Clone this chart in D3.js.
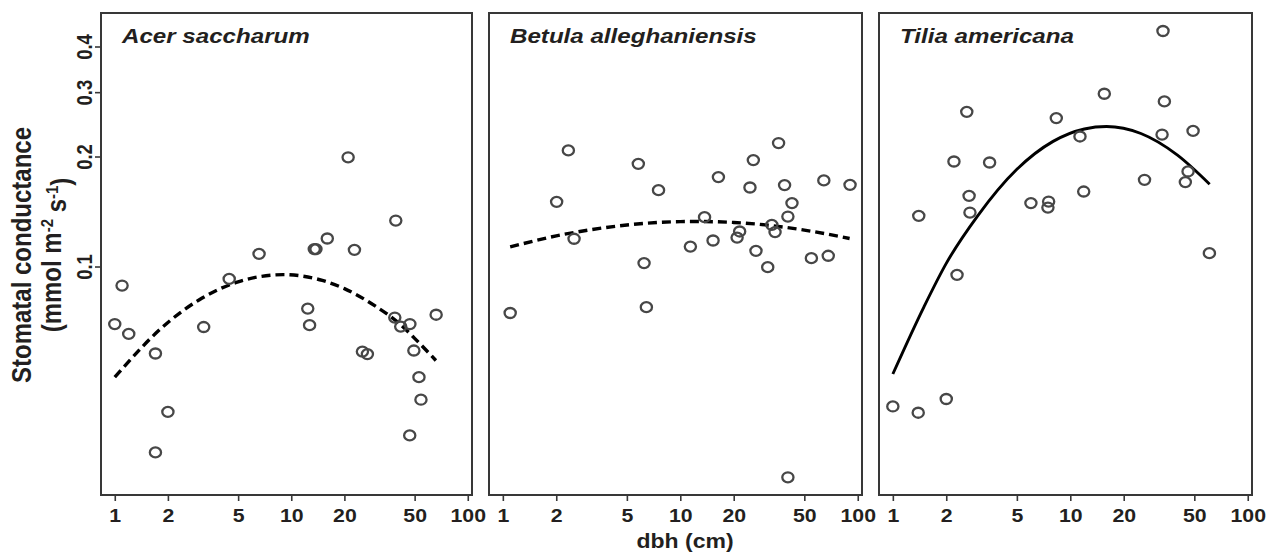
<!DOCTYPE html>
<html><head><meta charset="utf-8">
<script src="https://cdn.jsdelivr.net/npm/d3@7"></script>
<style>
body{margin:0;background:#fff}
text{font-family:"Liberation Sans",Arial,Helvetica,sans-serif;font-weight:bold;fill:#231f20}
</style>
</head><body>
<svg id="chart" width="1268" height="554"></svg>
<script>
// ---------------- data ----------------
const speciesNames = ["Acer saccharum", "Betula alleghaniensis", "Tilia americana"];
const xTicks = [1, 2, 5, 10, 20, 50, 100];
const yTicks = [0.1, 0.2, 0.3, 0.4];

const acerDbh = [21.0, 39.1, 16.0, 13.5, 13.8, 22.8, 6.57, 4.45, 1.10, 1.0, 1.20, 3.19, 12.4, 12.7, 38.6, 41.7, 47.0, 66.2, 1.70, 25.3, 27.0, 49.5, 52.9, 54.3, 46.9, 2.0, 1.70];
const acerGs  = [0.199, 0.1336, 0.1193, 0.1116, 0.1116, 0.1111, 0.1083, 0.0925, 0.0887, 0.0696, 0.0654, 0.0683, 0.0767, 0.0691, 0.0725, 0.0685, 0.0696, 0.0738, 0.0578, 0.0585, 0.0576, 0.0589, 0.0498, 0.0432, 0.0345, 0.0400, 0.0310];

const betulaDbh = [2.34, 2.01, 2.52, 5.80, 7.54, 13.7, 16.4, 11.4, 15.3, 6.25, 25.8, 24.7, 21.6, 20.9, 26.7, 35.8, 38.7, 42.6, 40.4, 32.8, 34.2, 31.1, 64.4, 90.5, 54.8, 68.2, 1.10, 6.44, 40.4];
const betulaGs  = [0.2078, 0.1503, 0.1191, 0.191, 0.1618, 0.1365, 0.1757, 0.1134, 0.1178, 0.1022, 0.1955, 0.1645, 0.1247, 0.1200, 0.1104, 0.2177, 0.167, 0.1491, 0.137, 0.130, 0.1242, 0.0996, 0.172, 0.1673, 0.1054, 0.1070, 0.0746, 0.0774, 0.0265];

const tiliaDbh = [33.3, 15.55, 33.9, 2.61, 8.34, 49.2, 32.9, 11.34, 2.21, 3.51, 26.2, 46.1, 44.5, 11.9, 2.69, 2.72, 6.0, 7.55, 7.48, 1.40, 60.8, 2.30, 1.0, 1.39, 2.0];
const tiliaGs  = [0.441, 0.297, 0.283, 0.265, 0.2548, 0.235, 0.2297, 0.2269, 0.1938, 0.1926, 0.1727, 0.182, 0.1702, 0.1604, 0.1561, 0.1405, 0.1491, 0.1506, 0.145, 0.1376, 0.1088, 0.0949, 0.0414, 0.0398, 0.0434];

// fitted curves
const acerFitDbh = [1, 2, 3, 5, 9, 15, 20, 30, 40, 50, 66];
const acerFitGs  = [0.0498, 0.0703, 0.0810, 0.0908, 0.0950, 0.0916, 0.0870, 0.0779, 0.0705, 0.0636, 0.0553];
const betulaFitDbh = [1.1, 2, 3, 5, 10, 12.3, 20, 30, 50, 90];
const betulaFitGs  = [0.1131, 0.1213, 0.1257, 0.1299, 0.1327, 0.1328, 0.1320, 0.1300, 0.1258, 0.1193];
const tiliaFitDbh = [1, 1.5, 2, 3, 5, 8, 12, 16, 25, 40, 61];
const tiliaFitGs  = [0.0508, 0.0777, 0.1020, 0.1374, 0.1845, 0.2200, 0.2379, 0.2416, 0.2312, 0.2021, 0.1680];

const panelData = [
  {name: speciesNames[0], dbh: acerDbh, gs: acerGs, fitDbh: acerFitDbh, fitGs: acerFitGs, dashed: true},
  {name: speciesNames[1], dbh: betulaDbh, gs: betulaGs, fitDbh: betulaFitDbh, fitGs: betulaFitGs, dashed: true},
  {name: speciesNames[2], dbh: tiliaDbh, gs: tiliaGs, fitDbh: tiliaFitDbh, fitGs: tiliaFitGs, dashed: false}
];

// ---------------- layout ----------------
const svg = d3.select("#chart");
const SX = 1.15; // horizontal stretch of the source image
const plotTop = 13, plotBottom = 495;
const panelLeft = [101, 489, 879];
const panelWidth = [371, 373, 373];
const frameColor = "#383838";

const y = d3.scaleLog().domain([0.0237, 0.494]).range([plotBottom, plotTop]);

panelData.forEach((p, i) => {
  const left = panelLeft[i], w = panelWidth[i];
  const x = d3.scaleLog().domain([Math.pow(10, -0.078), Math.pow(10, 2.024)]).range([left, left + w]);
  const g = svg.append("g");

  // x axis
  const xa = g.append("g").attr("transform", `translate(0,${plotBottom})`)
    .call(d3.axisBottom(x).tickValues(xTicks).tickFormat(d3.format("d")).tickSize(6).tickSizeOuter(0));
  xa.select(".domain").remove();
  xa.selectAll(".tick line").attr("stroke", frameColor).attr("stroke-width", 1.6);
  xa.selectAll(".tick text").attr("y", 27).attr("dy", 0)
    .attr("transform", `scale(${SX},1)`)
    .style("font-size", "18.5px").attr("fill", "#231f20");

  // y axis (left panel only)
  if (i === 0) {
    const ya = g.append("g").attr("transform", `translate(${left},0)`)
      .call(d3.axisLeft(y).tickValues(yTicks).tickFormat(d3.format(".1f")).tickSize(6).tickSizeOuter(0));
    ya.select(".domain").remove();
    ya.selectAll(".tick line").attr("stroke", frameColor).attr("stroke-width", 1.6);
    ya.selectAll(".tick text").attr("x", null).attr("dy", 0).attr("y", null)
      .attr("text-anchor", "middle")
      .attr("transform", `translate(-9,0) scale(${SX},1) rotate(-90)`)
      .style("font-size", "18.5px").attr("fill", "#231f20");
  }

  // frame
  g.append("rect").attr("x", left).attr("y", plotTop).attr("width", w).attr("height", plotBottom - plotTop)
    .attr("fill", "none").attr("stroke", frameColor).attr("stroke-width", 2);

  // fit line
  const fit = p.fitDbh.map((d, k) => [d, p.fitGs[k]]);
  g.append("path").datum(fit)
    .attr("d", d3.line().x(d => x(d[0])).y(d => y(d[1])).curve(d3.curveMonotoneX))
    .attr("fill", "none").attr("stroke", "#000").attr("stroke-width", p.dashed ? 3.4 : 2.9)
    .attr("stroke-dasharray", p.dashed ? "9,5" : null);

  // points
  const pts = p.dbh.map((d, k) => [d, p.gs[k]]);
  g.selectAll("ellipse").data(pts).enter().append("ellipse")
    .attr("cx", d => x(d[0])).attr("cy", d => y(d[1]))
    .attr("rx", 5.6).attr("ry", 5.0)
    .attr("fill", "none").attr("stroke", "#474747").attr("stroke-width", 2.3);

  // panel title
  g.append("text").attr("transform", `translate(${left + 21},43) scale(${SX},1)`)
    .style("font-size", "21px").style("font-style", "italic").text(p.name);
});

// x axis title
svg.append("text").attr("transform", `translate(685,548) scale(${SX},1)`)
  .attr("text-anchor", "middle").style("font-size", "20px").text("dbh (cm)");

// y axis title
svg.append("text").attr("transform", `translate(31,255) scale(${SX},1) rotate(-90)`)
  .attr("text-anchor", "middle").style("font-size", "24px").text("Stomatal conductance");
const yt2 = svg.append("text").attr("transform", `translate(61,255) scale(${SX},1) rotate(-90)`)
  .attr("text-anchor", "middle").style("font-size", "24px");
yt2.append("tspan").text("(mmol m");
yt2.append("tspan").attr("dy", "-0.45em").style("font-size", "15px").text("-2");
yt2.append("tspan").attr("dy", "0.45em").text(" s");
yt2.append("tspan").attr("dy", "-0.45em").style("font-size", "15px").text("-1");
yt2.append("tspan").attr("dy", "0.45em").text(")");
</script>
</body></html>
